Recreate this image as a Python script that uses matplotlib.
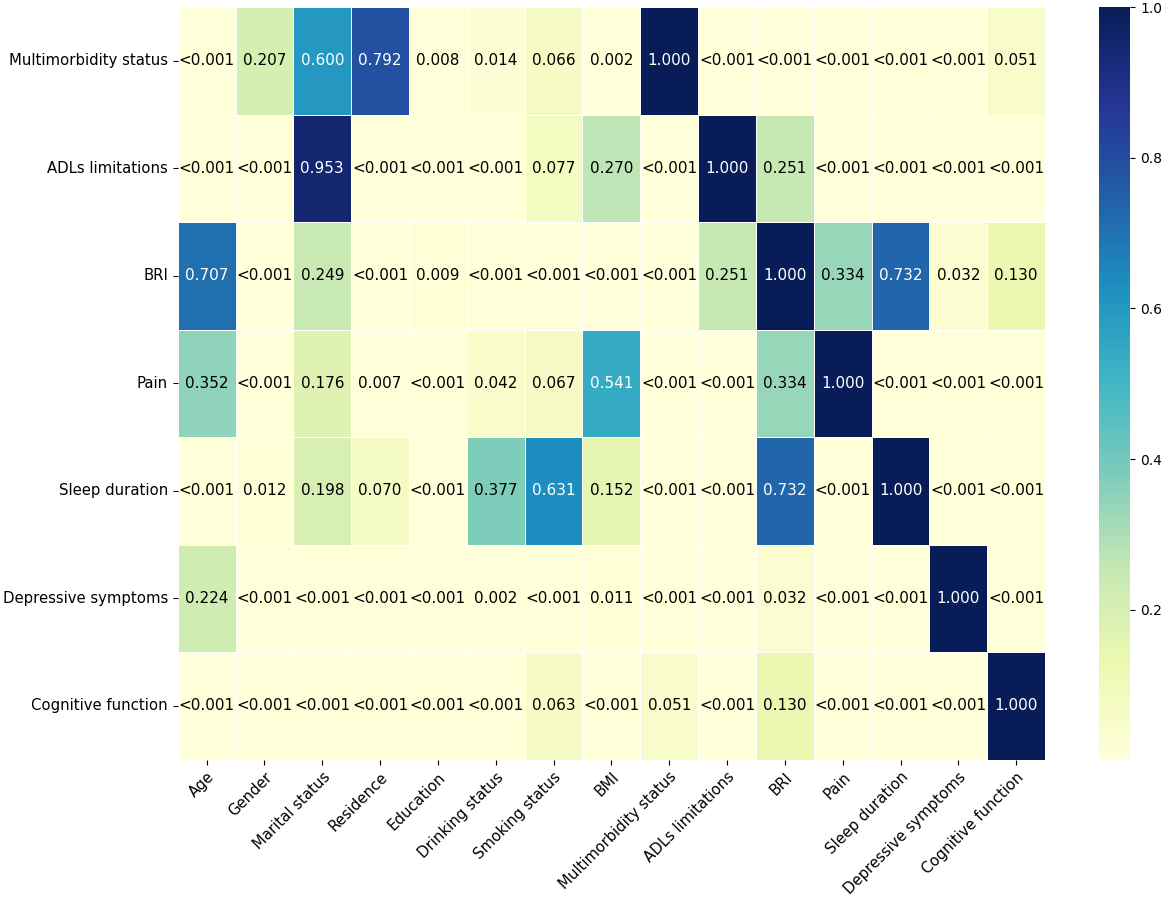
import numpy as np
import matplotlib
matplotlib.use("Agg")
import matplotlib.pyplot as plt
import seaborn as sns

rows = ["Multimorbidity status", "ADLs limitations", "BRI", "Pain",
        "Sleep duration", "Depressive symptoms", "Cognitive function"]
cols = ["Age", "Gender", "Marital status", "Residence", "Education",
        "Drinking status", "Smoking status", "BMI", "Multimorbidity status",
        "ADLs limitations", "BRI", "Pain", "Sleep duration",
        "Depressive symptoms", "Cognitive function"]

L = "<0.001"
labels = [
    [L, "0.207", "0.600", "0.792", "0.008", "0.014", "0.066", "0.002", "1.000", L, L, L, L, L, "0.051"],
    [L, L, "0.953", L, L, L, "0.077", "0.270", L, "1.000", "0.251", L, L, L, L],
    ["0.707", L, "0.249", L, "0.009", L, L, L, L, "0.251", "1.000", "0.334", "0.732", "0.032", "0.130"],
    ["0.352", L, "0.176", "0.007", L, "0.042", "0.067", "0.541", L, L, "0.334", "1.000", L, L, L],
    [L, "0.012", "0.198", "0.070", L, "0.377", "0.631", "0.152", L, L, "0.732", L, "1.000", L, L],
    ["0.224", L, L, L, L, "0.002", L, "0.011", L, L, "0.032", L, L, "1.000", L],
    [L, L, L, L, L, L, "0.063", L, "0.051", L, "0.130", L, L, L, "1.000"],
]

values = np.array([[0.001 if s == L else float(s) for s in r] for r in labels])
annot = np.array(labels)

fig = plt.figure(figsize=(11.69, 8.98), dpi=100)
ax = fig.add_axes([0.152, 0.154, 0.742, 0.838])
cax = fig.add_axes([0.940, 0.154, 0.027, 0.838])

sns.heatmap(values, annot=annot, fmt="", cmap="YlGnBu", linewidths=0.5,
            linecolor="white", ax=ax, cbar_ax=cax,
            annot_kws={"fontsize": 11},
            xticklabels=cols, yticklabels=rows)

for t in ax.texts:
    if t.get_color() != "w":
        t.set_color("black")

ax.set_xticklabels(cols, rotation=45, ha="right", rotation_mode="anchor", fontsize=10.7)
ax.set_yticklabels(rows, rotation=0, fontsize=10.7)
cax.tick_params(labelsize=10)
cax.set_yticks([0.2, 0.4, 0.6, 0.8, 1.0])

fig.savefig("out.png", dpi=100)
